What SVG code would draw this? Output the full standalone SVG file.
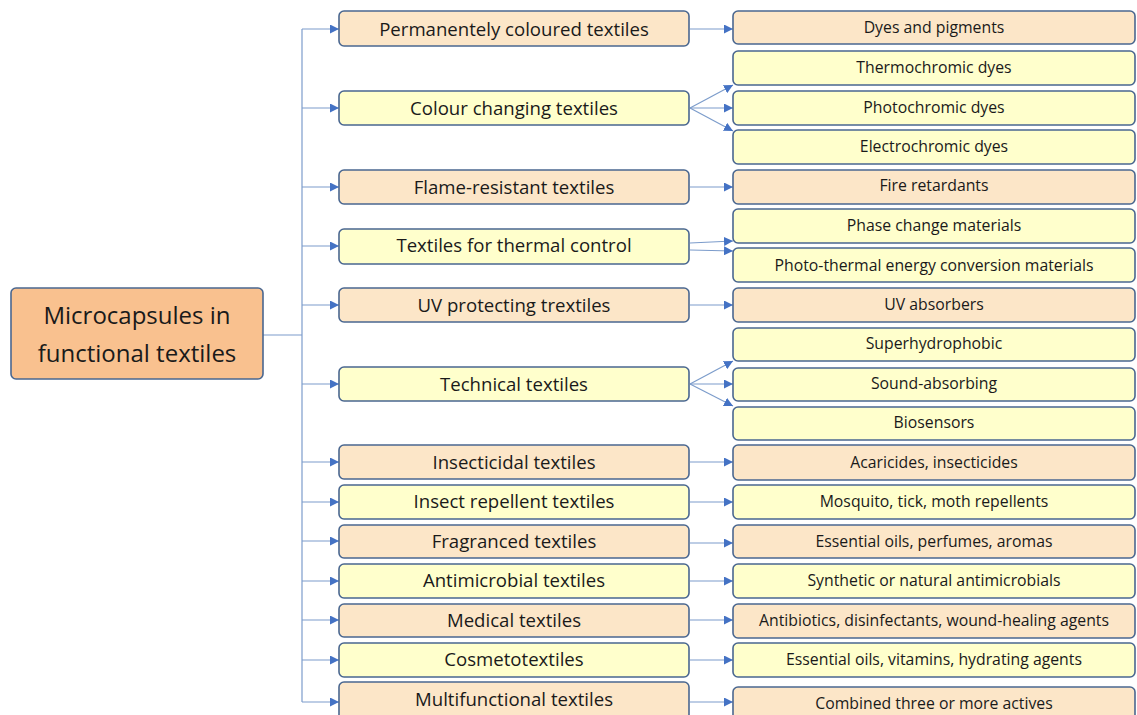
<svg xmlns="http://www.w3.org/2000/svg" width="1137" height="715" viewBox="0 0 1137 715">
<defs>
<marker id="ah" viewBox="0 0 10 10" refX="10" refY="5" markerWidth="9" markerHeight="9" markerUnits="userSpaceOnUse" orient="auto">
<path d="M0,0 L10,5 L0,10 z" fill="#4472C4"/>
</marker>
<style>
.box{stroke:#4A6790;stroke-width:1.6}
.pe{fill:#FCE6C8}
.ye{fill:#FFFFCC}
.root{fill:#F9C18F}
.t{font-family:"Open Sans","Liberation Sans",sans-serif;fill:#1a1a1a;text-anchor:middle;dominant-baseline:central}
.m{font-size:18.6px}
.r{font-size:15.8px}
.rt{font-size:24px}
.c{stroke:#7C9CCB;stroke-width:1.2;fill:none}
.a{stroke:#7C9CCB;stroke-width:1.2;fill:none;marker-end:url(#ah)}
</style>
</defs>
<rect width="1137" height="715" fill="#ffffff"/>

<g id="connectors">
<line class="c" x1="263" y1="335" x2="302" y2="335"/>
<line class="c" x1="302" y1="29" x2="302" y2="702"/>
<line class="a" x1="302" y1="29" x2="339" y2="29"/>
<line class="a" x1="302" y1="108" x2="339" y2="108"/>
<line class="a" x1="302" y1="187" x2="339" y2="187"/>
<line class="a" x1="302" y1="246" x2="339" y2="246"/>
<line class="a" x1="302" y1="305" x2="339" y2="305"/>
<line class="a" x1="302" y1="384" x2="339" y2="384"/>
<line class="a" x1="302" y1="462" x2="339" y2="462"/>
<line class="a" x1="302" y1="502" x2="339" y2="502"/>
<line class="a" x1="302" y1="541" x2="339" y2="541"/>
<line class="a" x1="302" y1="581" x2="339" y2="581"/>
<line class="a" x1="302" y1="620" x2="339" y2="620"/>
<line class="a" x1="302" y1="660" x2="339" y2="660"/>
<line class="a" x1="302" y1="702" x2="339" y2="702"/>

<line class="a" x1="690" y1="29" x2="733" y2="29"/>
<line class="a" x1="690" y1="108" x2="733" y2="85"/>
<line class="a" x1="690" y1="108" x2="733" y2="108"/>
<line class="a" x1="690" y1="108" x2="733" y2="131"/>
<line class="a" x1="690" y1="187" x2="733" y2="187"/>
<line class="a" x1="690" y1="243" x2="733" y2="241"/>
<line class="a" x1="690" y1="250" x2="733" y2="251"/>
<line class="a" x1="690" y1="305" x2="733" y2="305"/>
<line class="a" x1="690" y1="384" x2="733" y2="361"/>
<line class="a" x1="690" y1="384" x2="733" y2="384"/>
<line class="a" x1="690" y1="384" x2="733" y2="406"/>
<line class="a" x1="690" y1="462" x2="733" y2="462"/>
<line class="a" x1="690" y1="502" x2="733" y2="502"/>
<line class="a" x1="690" y1="543" x2="733" y2="543"/>
<line class="a" x1="690" y1="581" x2="733" y2="581"/>
<line class="a" x1="690" y1="620" x2="733" y2="620"/>
<line class="a" x1="690" y1="660" x2="733" y2="660"/>
<line class="a" x1="690" y1="702" x2="733" y2="702"/>
</g>

<g id="root">
<rect class="box root" x="11" y="288" width="252" height="91" rx="5"/>
<text class="t rt" x="137" y="314">Microcapsules in</text>
<text class="t rt" x="137" y="352">functional textiles</text>
</g>

<g id="m1"><rect class="box pe" x="339" y="11" width="350" height="35" rx="5"/><text class="t m" x="514" y="28">Permanentely coloured textiles</text></g>
<g id="m2"><rect class="box ye" x="339" y="91" width="350" height="34" rx="5"/><text class="t m" x="514" y="107">Colour changing textiles</text></g>
<g id="m3"><rect class="box pe" x="339" y="170" width="350" height="34" rx="5"/><text class="t m" x="514" y="186">Flame-resistant textiles</text></g>
<g id="m4"><rect class="box ye" x="339" y="229" width="350" height="35" rx="5"/><text class="t m" x="514" y="244">Textiles for thermal control</text></g>
<g id="m5"><rect class="box pe" x="339" y="288" width="350" height="34" rx="5"/><text class="t m" x="514" y="304">UV protecting trextiles</text></g>
<g id="m6"><rect class="box ye" x="339" y="367" width="350" height="34" rx="5"/><text class="t m" x="514" y="383">Technical textiles</text></g>
<g id="m7"><rect class="box pe" x="339" y="445" width="350" height="34" rx="5"/><text class="t m" x="514" y="461">Insecticidal textiles</text></g>
<g id="m8"><rect class="box ye" x="339" y="485" width="350" height="34" rx="5"/><text class="t m" x="514" y="500">Insect repellent textiles</text></g>
<g id="m9"><rect class="box pe" x="339" y="525" width="350" height="33" rx="5"/><text class="t m" x="514" y="540">Fragranced textiles</text></g>
<g id="m10"><rect class="box ye" x="339" y="564" width="350" height="34" rx="5"/><text class="t m" x="514" y="579">Antimicrobial textiles</text></g>
<g id="m11"><rect class="box pe" x="339" y="604" width="350" height="33" rx="5"/><text class="t m" x="514" y="619">Medical textiles</text></g>
<g id="m12"><rect class="box ye" x="339" y="643" width="350" height="34" rx="5"/><text class="t m" x="514" y="658">Cosmetotextiles</text></g>
<g id="m13"><rect class="box pe" x="339" y="682" width="350" height="40" rx="5"/><text class="t m" x="514" y="698">Multifunctional textiles</text></g>

<g id="r1"><rect class="box pe" x="733" y="11" width="402" height="33" rx="5"/><text class="t r" x="934" y="27">Dyes and pigments</text></g>
<g id="r2"><rect class="box ye" x="733" y="51" width="402" height="34" rx="5"/><text class="t r" x="934" y="67">Thermochromic dyes</text></g>
<g id="r3"><rect class="box ye" x="733" y="91" width="402" height="34" rx="5"/><text class="t r" x="934" y="107">Photochromic dyes</text></g>
<g id="r4"><rect class="box ye" x="733" y="130" width="402" height="34" rx="5"/><text class="t r" x="934" y="146">Electrochromic dyes</text></g>
<g id="r5"><rect class="box pe" x="733" y="170" width="402" height="34" rx="5"/><text class="t r" x="934" y="185">Fire retardants</text></g>
<g id="r6"><rect class="box ye" x="733" y="209" width="402" height="34" rx="5"/><text class="t r" x="934" y="225">Phase change materials</text></g>
<g id="r7"><rect class="box ye" x="733" y="248" width="402" height="34" rx="5"/><text class="t r" x="934" y="265">Photo-thermal energy conversion materials</text></g>
<g id="r8"><rect class="box pe" x="733" y="288" width="402" height="34" rx="5"/><text class="t r" x="934" y="304">UV absorbers</text></g>
<g id="r9"><rect class="box ye" x="733" y="328" width="402" height="33" rx="5"/><text class="t r" x="934" y="343">Superhydrophobic</text></g>
<g id="r10"><rect class="box ye" x="733" y="368" width="402" height="33" rx="5"/><text class="t r" x="934" y="383">Sound-absorbing</text></g>
<g id="r11"><rect class="box ye" x="733" y="407" width="402" height="33" rx="5"/><text class="t r" x="934" y="422">Biosensors</text></g>
<g id="r12"><rect class="box pe" x="733" y="445" width="402" height="35" rx="5"/><text class="t r" x="934" y="462">Acaricides, insecticides</text></g>
<g id="r13"><rect class="box ye" x="733" y="485" width="402" height="34" rx="5"/><text class="t r" x="934" y="501">Mosquito, tick, moth repellents</text></g>
<g id="r14"><rect class="box pe" x="733" y="525" width="402" height="33" rx="5"/><text class="t r" x="934" y="541">Essential oils, perfumes, aromas</text></g>
<g id="r15"><rect class="box ye" x="733" y="564" width="402" height="34" rx="5"/><text class="t r" x="934" y="580">Synthetic or natural antimicrobials</text></g>
<g id="r16"><rect class="box pe" x="733" y="604" width="402" height="34" rx="5"/><text class="t r" x="934" y="620">Antibiotics, disinfectants, wound-healing agents</text></g>
<g id="r17"><rect class="box ye" x="733" y="643" width="402" height="34" rx="5"/><text class="t r" x="934" y="659">Essential oils, vitamins, hydrating agents</text></g>
<g id="r18"><rect class="box pe" x="733" y="687" width="402" height="35" rx="5"/><text class="t r" x="934" y="703">Combined three or more actives</text></g>
</svg>
